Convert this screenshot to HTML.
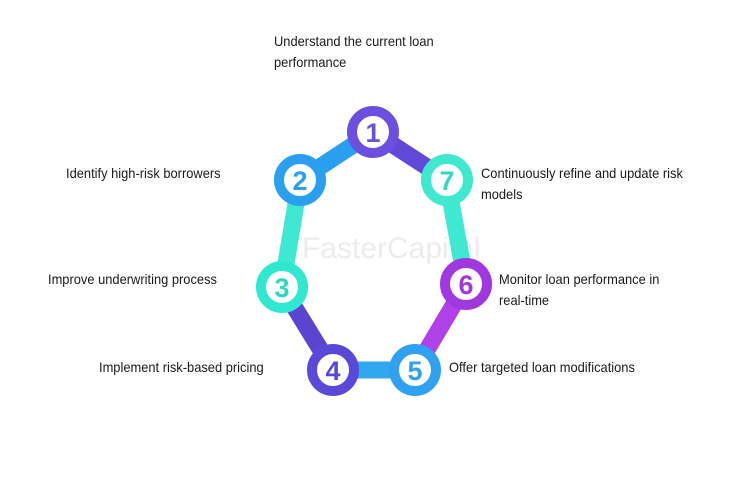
<!DOCTYPE html>
<html><head><style>
body{margin:0;width:750px;height:500px;background:#fff;overflow:hidden;position:relative;font-family:"Liberation Sans",sans-serif}
.t{position:absolute;font-size:14px;color:#1a1a1a;line-height:21px;transform:scaleX(0.92);transform-origin:left top}
</style></head><body>
<svg width="750" height="500" style="position:absolute;left:0;top:0">
<text x="302" y="258" font-size="30" fill="#ececec" font-family="Liberation Sans">FasterCapital</text>
<g stroke-width="17" stroke-linecap="butt">
<line x1="373" y1="132" x2="300" y2="180" stroke="#2a9ff0"/>
<line x1="373" y1="132" x2="447" y2="180" stroke="#6048d8"/>
<line x1="447" y1="180" x2="466" y2="284" stroke="#3ee8d2"/>
<line x1="300" y1="180" x2="282" y2="287" stroke="#3ee8d2"/>
<line x1="282" y1="287" x2="333" y2="370" stroke="#5a44d0"/>
<line x1="333" y1="370" x2="415" y2="370" stroke="#30a8f0"/>
<line x1="466" y1="284" x2="415" y2="370" stroke="#b040e8"/>
</g>
<g stroke-width="10" fill="#fff">
<circle cx="373" cy="132" r="21" stroke="#6a4fe0"/>
<circle cx="300" cy="180" r="21" stroke="#2a9ff0"/>
<circle cx="447" cy="180" r="21" stroke="#40e8d0"/>
<circle cx="282" cy="287" r="21" stroke="#30e8d0"/>
<circle cx="466" cy="284" r="21" stroke="#a038e0"/>
<circle cx="333" cy="370" r="21" stroke="#5a48d8"/>
<circle cx="415" cy="370" r="21" stroke="#30a0f0"/>
</g>
<g font-size="27" font-weight="bold" text-anchor="middle" font-family="Liberation Sans">
<text x="373" y="142" fill="#6a4fe0">1</text>
<text x="300" y="190" fill="#2a9ff0">2</text>
<text x="447" y="190" fill="#30d8c0">7</text>
<text x="282" y="297" fill="#28d8c0">3</text>
<text x="466" y="294" fill="#a038e0">6</text>
<text x="333" y="380" fill="#5a48d8">4</text>
<text x="415" y="380" fill="#30a0f0">5</text>
</g>
</svg>
<div class="t" style="left:274px;top:31px">Understand the current loan<br>performance</div>
<div class="t" style="left:66px;top:163px">Identify high-risk borrowers</div>
<div class="t" style="left:481px;top:163px">Continuously refine and update risk<br>models</div>
<div class="t" style="left:48px;top:269px">Improve underwriting process</div>
<div class="t" style="left:499px;top:269px">Monitor loan performance in<br>real-time</div>
<div class="t" style="left:99px;top:357px">Implement risk-based pricing</div>
<div class="t" style="left:449px;top:357px">Offer targeted loan modifications</div>
</body></html>
